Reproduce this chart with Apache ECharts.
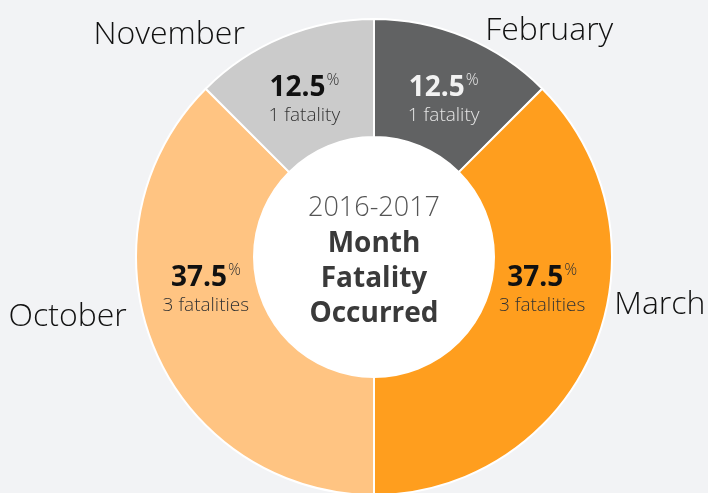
<!DOCTYPE html>
<html>
<head>
<meta charset="utf-8">
<script src="https://cdn.jsdelivr.net/npm/echarts@6/dist/echarts.min.js"></script>
<style>
  html, body { margin: 0; padding: 0; background: #f2f3f5; }
  #chart { width: 708px; height: 493px; }
</style>
</head>
<body>
<div id="chart"></div>
<script>
// month the fatality occurred, 2016-2017
var months = ['February', 'March', 'October', 'November'];
var fatalities = [1, 3, 3, 1];
var colors = ['#616263', '#ff9e1e', '#ffc482', '#cbcbcb'];
var centerLines = ['2016-2017', 'Month', 'Fatality', 'Occurred'];

var FONT = '"Open Sans", "Noto Sans", sans-serif';

// nudges for the labels, in data order
var innerShift = [[0, 11], [0, -37], [0, -37], [0, 11]];
var outerShift = [[12, 1], [8, -46], [-15, -34], [-30, 5]];

var chart = echarts.init(document.getElementById('chart'));

var pieData = months.map(function (m, i) {
  var dark = i === 0;
  return {
    name: m,
    value: fatalities[i],
    itemStyle: { color: colors[i] },
    label: {
      rich: {
        v: { fontSize: 28, fontWeight: 'bold', color: dark ? '#f2f2f2' : '#111', fontFamily: FONT, lineHeight: 31 },
        p: { fontSize: 16, fontWeight: 300, color: dark ? '#e6e6e6' : '#333', fontFamily: FONT, verticalAlign: 'top', lineHeight: 31, padding: [0, 0, 12, 1] },
        n: { fontSize: 19, fontWeight: 300, color: dark ? '#e6e6e6' : '#333', fontFamily: FONT, lineHeight: 24 }
      }
    }
  };
});

var option = {
  backgroundColor: '#f2f3f5',
  animation: false,
  series: [
    {
      // white center with the caption
      type: 'pie',
      silent: true,
      center: [374, 257],
      radius: [0, 120],
      data: [{ value: 1, itemStyle: { color: '#ffffff' } }],
      labelLine: { show: false },
      label: {
        show: true,
        position: 'center',
        formatter: '{y|' + centerLines[0] + '}\n{b|' + centerLines.slice(1).join('}\n{b|') + '}',
        rich: {
          y: { fontSize: 27, fontWeight: 300, color: '#555', fontFamily: FONT, lineHeight: 36 },
          b: { fontSize: 28, fontWeight: 'bold', color: '#3a3a3a', fontFamily: FONT, lineHeight: 35 }
        }
      },
      labelLayout: function () { return { dy: 4 }; }
    },
    {
      type: 'pie',
      silent: true,
      center: [374, 257],
      radius: [120, 238],
      startAngle: 90,
      clockwise: true,
      itemStyle: { borderColor: '#ffffff', borderWidth: 2 },
      label: {
        show: true,
        position: 'inside',
        formatter: function (p) {
          var unit = p.value === 1 ? ' fatality' : ' fatalities';
          return '{v|' + p.percent.toFixed(1) + '}{p|%}\n{n|' + p.value + unit + '}';
        }
      },
      labelLayout: function (p) {
        var s = innerShift[p.dataIndex];
        return { dx: s[0], dy: s[1] };
      },
      data: pieData
    },
    {
      // month names outside the ring
      type: 'pie',
      silent: true,
      center: [374, 257],
      radius: [120, 238],
      startAngle: 90,
      clockwise: true,
      itemStyle: { color: 'rgba(0,0,0,0)' },
      labelLine: { show: false, length: 8, length2: 0 },
      label: {
        show: true,
        position: 'outside',
        formatter: '{b}',
        fontSize: 32,
        fontWeight: 300,
        color: '#111',
        fontFamily: FONT
      },
      labelLayout: function (p) {
        var s = outerShift[p.dataIndex];
        return { dx: s[0], dy: s[1] };
      },
      data: months.map(function (m, i) { return { name: m, value: fatalities[i] }; })
    }
  ]
};

chart.setOption(option);
</script>
</body>
</html>
